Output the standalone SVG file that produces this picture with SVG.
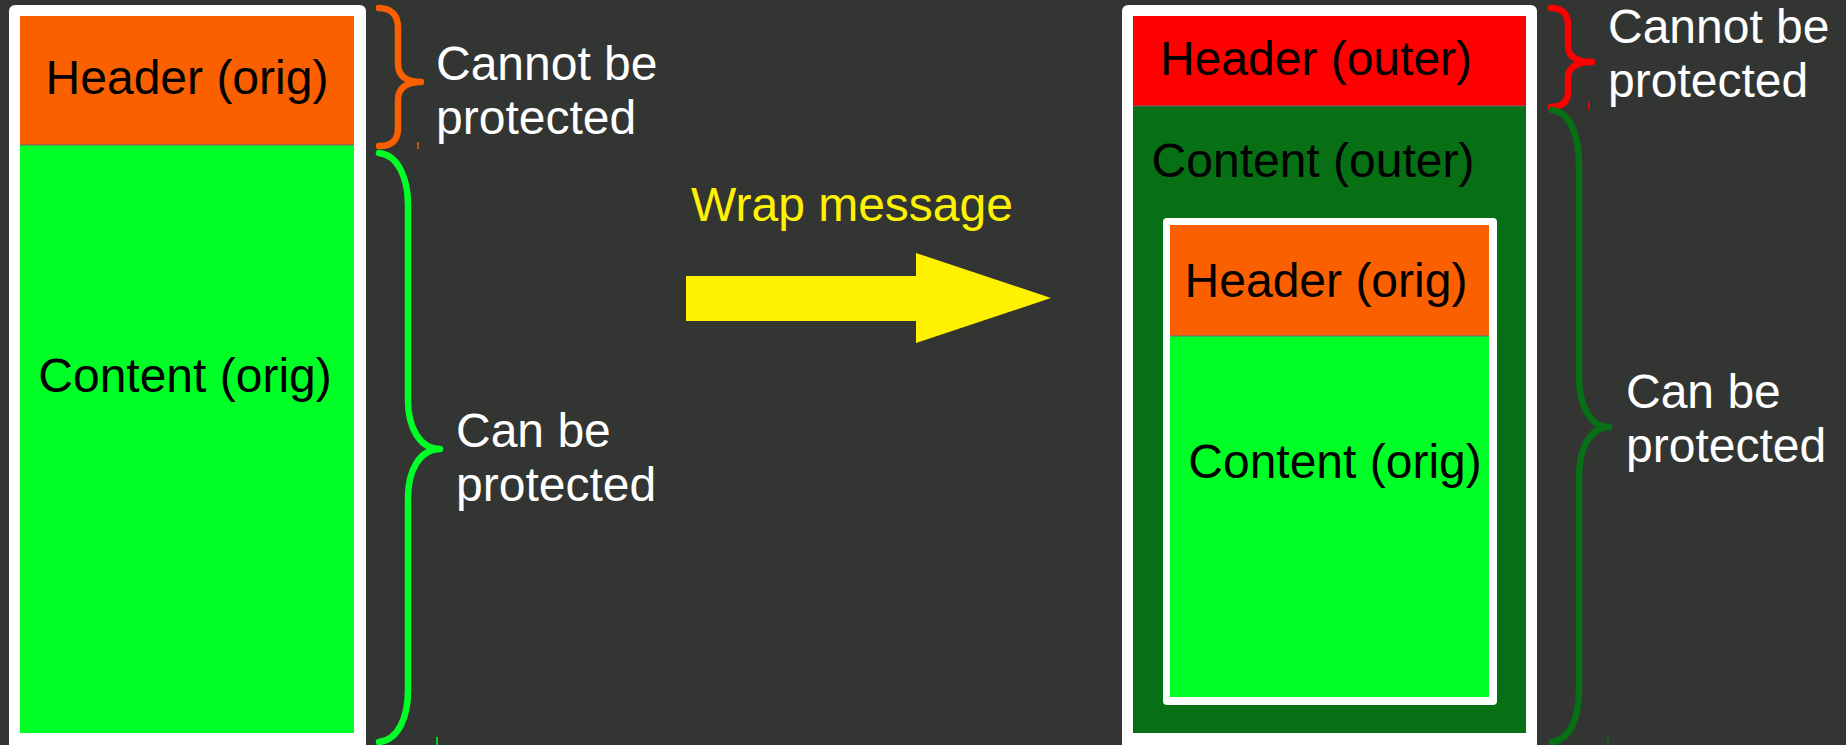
<svg xmlns="http://www.w3.org/2000/svg" width="1846" height="745" viewBox="0 0 1846 745">
  <style>
    .lbl { font-family: "Liberation Sans", Arial, sans-serif; font-size: 48px; }
    .dark { fill: #000000; }
    .light { fill: #ffffff; }
    .wrap { fill: #fff200; }
    .frame { fill: #ffffff; }
    .hdr-orig { fill: #fa5f00; }
    .cnt-orig { fill: #00ff27; }
    .hdr-outer { fill: #ff0000; }
    .cnt-outer { fill: #076f14; }
    .seam { stroke: #5a6e80; stroke-width: 1; }
    .brace { fill: none; stroke-width: 6.5; stroke-linecap: round; stroke-linejoin: round; }
    .tick { stroke-width: 1.5; }
  </style>

  <rect x="0" y="0" width="1846" height="745" fill="#333533"/>

  <!-- original message -->
  <g id="msg-orig">
    <rect class="frame" x="9" y="5" width="357" height="745" rx="6"/>
    <rect class="hdr-orig" x="20" y="16" width="334" height="129"/>
    <rect class="cnt-orig" x="20" y="145" width="334" height="588"/>
    <line class="seam" x1="20" y1="145" x2="354" y2="145"/>
    <text class="lbl dark" x="187" y="94" text-anchor="middle">Header (orig)</text>
    <text class="lbl dark" x="185" y="392" text-anchor="middle">Content (orig)</text>
  </g>

  <!-- wrapped message -->
  <g id="msg-wrapped">
    <rect class="frame" x="1122" y="5" width="415" height="745" rx="6"/>
    <rect class="hdr-outer" x="1133" y="16" width="393" height="90"/>
    <rect class="cnt-outer" x="1133" y="106" width="393" height="627"/>
    <line class="seam" x1="1133" y1="106" x2="1526" y2="106"/>
    <text class="lbl dark" x="1316" y="75" text-anchor="middle">Header (outer)</text>
    <text class="lbl dark" x="1313" y="177" text-anchor="middle">Content (outer)</text>
  </g>

  <!-- original message nested inside the outer content -->
  <g id="msg-inner">
    <rect class="frame" x="1163" y="218" width="334" height="487" rx="4"/>
    <rect class="hdr-orig" x="1170" y="225" width="319" height="111"/>
    <rect class="cnt-orig" x="1170" y="336" width="319" height="361"/>
    <line class="seam" x1="1170" y1="336" x2="1489" y2="336"/>
    <text class="lbl dark" x="1326" y="297" text-anchor="middle">Header (orig)</text>
    <text class="lbl dark" x="1335" y="478" text-anchor="middle">Content (orig)</text>
  </g>

  <!-- braces and the wrap arrow -->
  <g id="connectors">
    <path class="brace" stroke="#fa5f00" d="M379,8 C392,8 398,16 398,28 L398,64 C398,76 406,82 421,82 C406,82 398,88 398,100 L398,128 C398,140 392,146 379,146"/>
    <line class="tick" stroke="#fa5f00" x1="418" y1="142" x2="418" y2="149"/>
    <path class="brace" stroke="#00ff27" d="M379,153 C398,155 408,178 408,205 L408,400 C408,428 420,449 440,449 C420,449 408,470 408,498 L408,690 C408,718 398,740 379,742"/>
    <line class="tick" stroke="#00ff27" x1="437" y1="737" x2="437" y2="745"/>
    <path class="brace" stroke="#ff0000" d="M1551,8 C1562,8 1568,14 1568,24 L1568,46 C1568,56 1576,62 1592,62 C1576,62 1568,68 1568,78 L1568,92 C1568,102 1562,107 1551,107"/>
    <line class="tick" stroke="#ff0000" x1="1589" y1="102" x2="1589" y2="110"/>
    <path class="brace" stroke="#076f14" d="M1552,110 C1570,112 1579,135 1579,165 L1579,377 C1579,405 1590,427 1609,427 C1590,427 1579,449 1579,477 L1579,690 C1579,718 1570,740 1552,742"/>
    <line class="tick" stroke="#076f14" x1="1608" y1="737" x2="1608" y2="745"/>

    <polygon id="wrap-arrow" fill="#fff200" points="686,276 916,276 916,253 1051,298 916,343 916,321 686,321"/>
  </g>

  <g id="labels">
    <text class="lbl light" x="436" y="80">Cannot be</text>
    <text class="lbl light" x="436" y="134">protected</text>
    <text class="lbl light" x="456" y="447">Can be</text>
    <text class="lbl light" x="456" y="501">protected</text>
    <text class="lbl light" x="1608" y="43">Cannot be</text>
    <text class="lbl light" x="1608" y="97">protected</text>
    <text class="lbl light" x="1626" y="408">Can be</text>
    <text class="lbl light" x="1626" y="462">protected</text>
    <text class="lbl wrap" x="852" y="221" text-anchor="middle">Wrap message</text>
  </g>
</svg>
